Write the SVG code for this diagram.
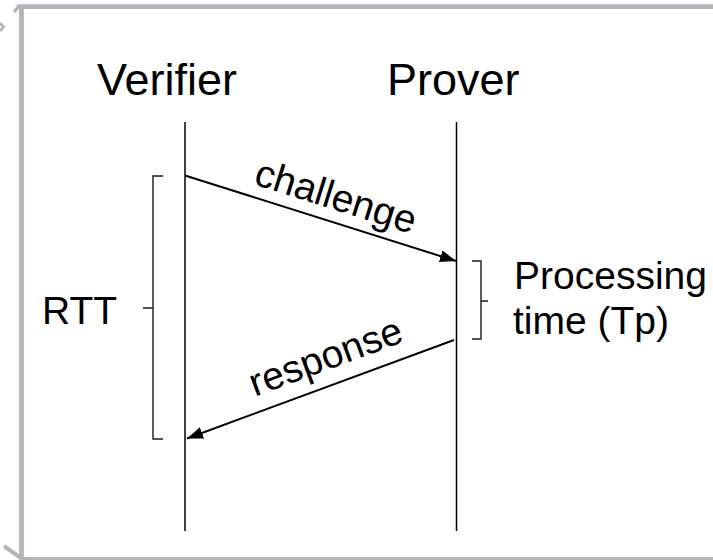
<svg xmlns="http://www.w3.org/2000/svg" width="713" height="560" viewBox="0 0 713 560">
<style>
.frame{stroke:#b2b4b9;fill:none;stroke-linecap:butt}
.life{stroke:#000;stroke-width:1.5;fill:none}
.msg{stroke:#000;stroke-width:2;fill:none}
.brk{stroke:#1a1a1a;stroke-width:1.4;fill:none}
text{font-family:"Liberation Sans",Arial,sans-serif;fill:#000}
.title{font-size:45px}
.lbl{font-size:39px}
</style>
<defs>
<marker id="arr" viewBox="0 0 16 12" refX="16" refY="6" markerWidth="16" markerHeight="12" markerUnits="userSpaceOnUse" orient="auto">
<path d="M0,0 L16,6 L0,12 z" fill="#000"/>
</marker>
</defs>
<rect width="713" height="560" fill="#fff"/>
<g id="frame">
<line class="frame" x1="17" y1="6.7" x2="713" y2="6.7" stroke-width="4.7"/>
<line class="frame" x1="21.5" y1="7" x2="21.5" y2="558" stroke-width="4.7"/>
<line class="frame" x1="19" y1="558.5" x2="713" y2="558.5" stroke-width="3"/>
<line class="frame" x1="14" y1="12" x2="19" y2="6" stroke-width="3.5"/>
<line class="frame" x1="4" y1="546" x2="21" y2="558" stroke-width="4"/>
<polyline class="frame" points="0,23 3.5,27 0,31" stroke-width="3"/>
</g>
<g id="verifier">
<text class="title" x="97" y="95">Verifier</text>
<line class="life" x1="185" y1="122" x2="185" y2="531"/>
</g>
<g id="prover">
<text class="title" x="387" y="95">Prover</text>
<line class="life" x1="456.5" y1="122" x2="456.5" y2="531"/>
</g>
<g id="connectors">
<line class="msg" x1="185" y1="175.5" x2="456" y2="261" marker-end="url(#arr)"/>
<line class="msg" x1="454" y1="340" x2="187" y2="438.5" marker-end="url(#arr)"/>
</g>
<g id="challenge-label">
<text class="lbl" text-anchor="middle" transform="translate(332,209) rotate(17.5)">challenge</text>
</g>
<g id="response-label">
<text class="lbl" text-anchor="middle" transform="translate(330,369) rotate(-20.2)">response</text>
</g>
<g id="rtt">
<path class="brk" d="M163,176 H153 V439 H163 M153,308 H143"/>
<text class="lbl" x="42" y="324">RTT</text>
</g>
<g id="processing">
<path class="brk" d="M472,261 H481 V339 H472 M481,301 H488"/>
<text class="lbl" x="514" y="289">Processing</text>
<text class="lbl" x="513" y="334">time (Tp)</text>
</g>
</svg>
